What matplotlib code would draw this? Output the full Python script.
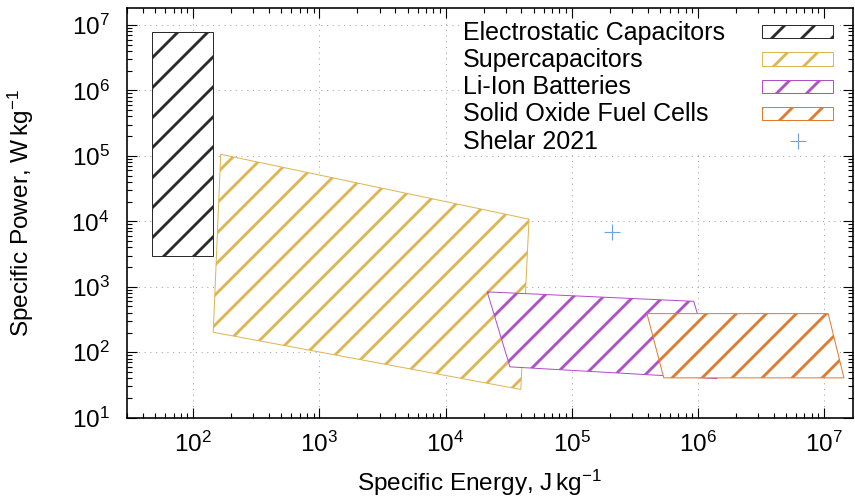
import numpy as np
import matplotlib
matplotlib.use("Agg")
import matplotlib.pyplot as plt
from matplotlib.patches import Polygon, Rectangle
from matplotlib.ticker import LogLocator, NullFormatter

plt.rcParams['font.family'] = ['Liberation Sans', 'DejaVu Sans']
plt.rcParams['mathtext.fontset'] = 'custom'
plt.rcParams['mathtext.rm'] = 'Liberation Sans'
plt.rcParams['mathtext.it'] = 'Liberation Sans:italic'
plt.rcParams['mathtext.bf'] = 'Liberation Sans:bold'
plt.rcParams['hatch.linewidth'] = 2.3

# region corners (J/kg, W/kg)
ec_energy = [47, 144, 144, 47]
ec_power = [3.0e3, 3.0e3, 7.7e6, 7.7e6]
sc_energy = [165, 4.59e4, 3.95e4, 144]
sc_power = [1.06e5, 1.08e4, 27, 202]
li_energy = [2.14e4, 9.27e5, 1.42e6, 3.24e4]
li_power = [836, 600, 39.5, 59.8]
sofc_energy = [3.95e5, 1.08e7, 1.44e7, 5.37e5]
sofc_power = [389, 389, 40.6, 40.6]
shelar_energy = [2.09e5]
shelar_power = [6.87e3]

labels = ["Electrostatic Capacitors", "Supercapacitors", "Li-Ion Batteries",
          "Solid Oxide Fuel Cells", "Shelar 2021"]
colors = ["#2b2b2b", "#dfb552", "#b04fc8", "#e07a2e"]
shelar_color = "#6aa3e6"
regions = [(ec_energy, ec_power), (sc_energy, sc_power),
           (li_energy, li_power), (sofc_energy, sofc_power)]

fig = plt.figure(figsize=(9.5, 503 / 90), dpi=90)
ax = fig.add_axes([0.1489, 0.1696, 0.8488, 0.8139])
ax.set_xscale('log')
ax.set_yscale('log')
ax.set_xlim(30, 1.7e7)
ax.set_ylim(10, 1.8e7)

for (e, p), c in zip(regions, colors):
    ax.add_patch(Polygon(np.column_stack([e, p]), closed=True, facecolor='white',
                         edgecolor=c, lw=0.8, hatch='/', zorder=2))
ax.plot(shelar_energy, shelar_power, ls='none', marker='+', ms=12.5, mew=0.9,
        color=shelar_color, zorder=3)

# axes styling, gnuplot look
for a in (ax.xaxis, ax.yaxis):
    a.set_major_locator(LogLocator(base=10, numticks=20))
    a.set_minor_locator(LogLocator(base=10, subs=np.arange(2, 10), numticks=20))
    a.set_minor_formatter(NullFormatter())
ax.set_axisbelow(True)
ax.grid(True, which='major', color='#a8a8a8', lw=0.8, ls=(0, (1.1, 4.6)))
ax.tick_params(which='both', direction='in', top=True, right=True, width=0.9)
ax.tick_params(which='major', length=8)
ax.tick_params(which='minor', length=4)
ax.tick_params(axis='x', which='major', pad=11, labelsize=19.5)
ax.tick_params(axis='y', which='major', pad=14, labelsize=19.5)
for s in ax.spines.values():
    s.set_linewidth(1.3)

ax.set_xlabel(r"Specific Energy, J$\,$kg$^{\mathregular{-1}}$", fontsize=19.5)
ax.set_ylabel(r"Specific Power, W$\,$kg$^{\mathregular{-1}}$", fontsize=19.5)
ax.xaxis.set_label_coords(0.486, -0.123)
ax.yaxis.set_label_coords(-0.126, 0.5)

# key: text on the left, sample on the right
ax.add_patch(Rectangle((0.4585, 0.649), 0.9821 - 0.4585, 0.9739 - 0.649,
                       transform=ax.transAxes, facecolor='white', edgecolor='none', zorder=3))
for i, lab in enumerate(labels):
    yc = 0.9428 - i * 0.0665
    ax.text(0.4626, yc - 0.0195, lab, transform=ax.transAxes, fontsize=20,
            va='baseline', ha='left', zorder=4)
    if i < len(colors):
        ax.add_patch(Rectangle((0.8742, yc - 0.01625), 0.0978, 0.0325,
                               transform=ax.transAxes, facecolor='white',
                               edgecolor=colors[i], lw=0.8, hatch='/', zorder=4))
    else:
        ax.plot([0.9235], [yc], transform=ax.transAxes, ls='none', marker='+',
                ms=12.5, mew=0.9, color=shelar_color, zorder=4, clip_on=False)

fig.savefig("out.png", dpi=90)
